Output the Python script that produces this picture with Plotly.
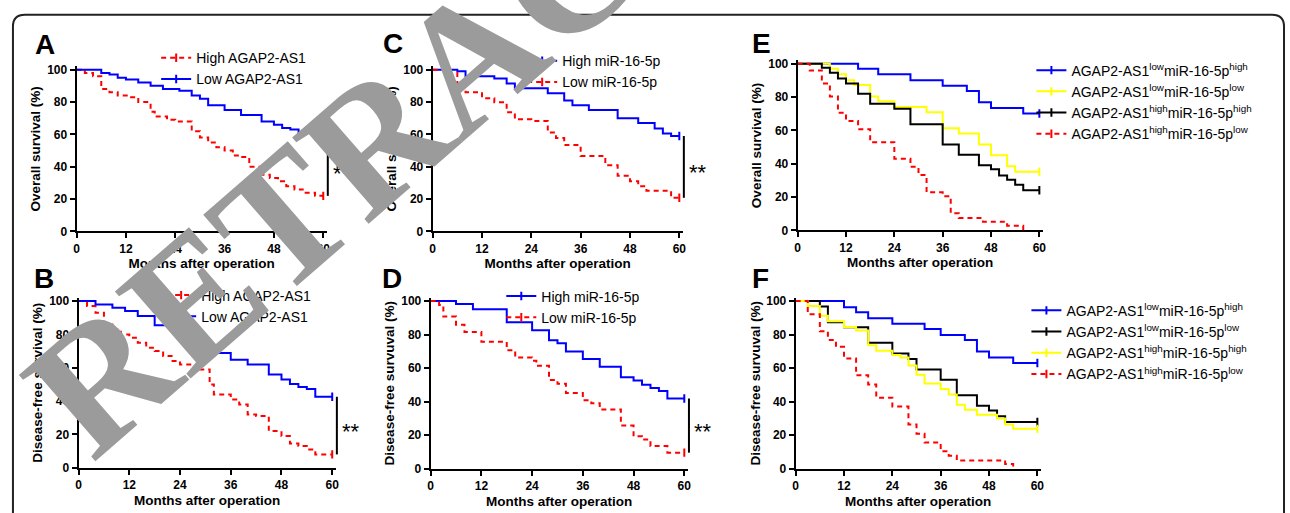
import plotly.graph_objects as go

W, H = 1290, 513
FONT = "Liberation Sans, Arial, sans-serif"
RED, BLUE, BLACK, YELLOW = "#ff0000", "#0000ff", "#000000", "#ffff00"

# ---------------- data (months, survival %) ----------------
month_ticks = [0, 12, 24, 36, 48, 60]
surv_ticks = [0, 20, 40, 60, 80, 100]

# A: overall survival by AGAP2-AS1
a_high_t = [0, 2, 4, 6, 8, 10, 13, 15, 18, 19, 22, 24, 28, 30, 32, 34, 36, 38, 40, 42, 45, 47, 49, 51, 53, 55, 58, 60]
a_high_s = [100, 98, 96, 88, 86, 84, 83, 80, 74, 71, 69, 68, 62, 58, 55, 52, 50, 47, 46, 40, 35, 33, 31, 28, 26, 24, 22, 22]
a_low_t = [0, 6, 8, 10, 12, 15, 18, 21, 25, 28, 30, 32, 36, 40, 45, 48, 50, 52, 54, 58, 60]
a_low_s = [100, 98, 97, 95, 94, 92, 90, 88, 87, 84, 82, 78, 75, 72, 68, 66, 64, 63, 61, 57, 57]

# B: disease-free survival by AGAP2-AS1
b_high_t = [0, 2, 4, 6, 8, 10, 12, 14, 16, 18, 20, 22, 24, 28, 31, 32, 36, 38, 40, 42, 45, 48, 50, 52, 54, 56, 60]
b_high_s = [100, 97, 93, 86, 83, 80, 78, 75, 72, 70, 67, 64, 62, 59, 50, 44, 41, 38, 32, 31, 22, 19, 14.5, 13, 11, 8, 8]
b_low_t = [0, 4, 8, 11, 14, 18, 24, 28, 30, 32, 36, 40, 45, 48, 50, 52, 54, 56, 60]
b_low_s = [100, 98, 96, 94, 91, 85.5, 80.5, 75, 73.7, 68.8, 64.8, 62, 56, 53, 50.3, 48.5, 47.2, 42.6, 42.6]

# C: overall survival by miR-16-5p
c_high_t = [0, 6, 8, 15, 18, 20, 28, 32, 34, 38, 45, 50, 54, 56, 58, 60]
c_high_s = [100, 99, 96, 94.5, 91.5, 88.5, 85.5, 81, 78, 75, 70, 67, 63.6, 60.6, 59, 59]
c_low_t = [0, 3, 6, 8, 12, 15, 18, 20, 24, 28, 30, 32, 36, 42, 45, 48, 50, 52, 58, 60]
c_low_s = [100, 98, 89.5, 86, 82.4, 79.8, 73.7, 69.3, 68.3, 61.2, 57.8, 53.5, 46.7, 41, 34.5, 31, 28, 25.2, 20.8, 20.8]

# D: disease-free survival by miR-16-5p
d_high_t = [0, 6, 10, 18, 24, 28, 30, 32, 36, 40, 45, 48, 50, 52, 54, 56, 60]
d_high_s = [100, 98.2, 95.1, 87.3, 82.6, 76.7, 74.8, 69.9, 65.4, 60.9, 54.6, 52.6, 50.1, 48.1, 46.4, 41.9, 41.9]
d_low_t = [0, 2, 3, 6, 8, 12, 18, 20, 24, 25, 28, 30, 32, 36, 38, 40, 45, 48, 50, 52, 56, 60]
d_low_s = [100, 97.7, 90.8, 85.9, 81.6, 75.7, 70.6, 66.3, 64.4, 61.4, 53, 50.7, 45.2, 40.9, 39, 35.4, 25.8, 19.4, 17.4, 13.5, 9.6, 9.6]

# E: overall survival, combined groups
e_lh_t = [0, 15, 20, 28, 36, 42, 45, 48, 56, 60]
e_lh_s = [100, 97, 93.7, 90.2, 86.9, 83.7, 76.9, 73.5, 70.2, 70.2]
e_ll_t = [0, 8, 10, 12, 14, 18, 20, 24, 32, 36, 40, 45, 48, 52, 54, 60]
e_ll_s = [100, 97, 93.7, 90.2, 87.3, 80.4, 77.5, 74.1, 71, 61.4, 58.2, 51.6, 45.1, 38.6, 35.3, 35.3]
e_hh_t = [0, 6, 8, 10, 12, 15, 18, 24, 28, 36, 40, 45, 48, 50, 52, 54, 56, 60]
e_hh_s = [100, 97.6, 94.7, 91.2, 88.2, 82, 76, 73, 63.7, 51.6, 45.5, 39.2, 36.7, 33, 30.4, 27.5, 24.1, 24.1]
e_hl_t = [0, 3, 6, 8, 10, 12, 15, 18, 24, 28, 30, 32, 36, 38, 40, 46, 52, 56]
e_hl_s = [100, 96, 88.2, 80.4, 70.6, 65.7, 60.8, 52.9, 43.1, 38.2, 33.3, 22.9, 20.6, 10.4, 7.5, 5.3, 2.9, 0]

# F: disease-free survival, combined groups
f_lh_t = [0, 12, 15, 18, 24, 32, 36, 42, 45, 48, 54, 60]
f_lh_s = [100, 96.3, 93.4, 89.8, 86.5, 83.4, 79.7, 76.8, 69.9, 66.4, 63.1, 63.1]
f_ll_t = [0, 6, 8, 12, 18, 24, 28, 30, 36, 40, 45, 48, 50, 52, 60]
f_ll_s = [100, 96.7, 87.3, 84.4, 75.2, 68.8, 65.4, 59.2, 53.1, 43.9, 37.5, 34.8, 31.3, 27.9, 27.9]
f_hh_t = [0, 3, 6, 8, 12, 15, 18, 20, 24, 26, 28, 30, 32, 36, 38, 40, 42, 45, 50, 52, 54, 60]
f_hh_s = [100, 97, 91.2, 87.9, 84.6, 82.4, 73.6, 70.3, 67.8, 66.4, 61.5, 56.1, 50.8, 47.5, 44.3, 38.1, 35.2, 32.2, 29.9, 26.4, 23.8, 23.8]
f_hl_t = [0, 3, 6, 8, 10, 12, 15, 18, 20, 24, 28, 30, 32, 36, 38, 40, 52, 54]
f_hl_s = [100, 92.2, 82, 76.8, 72.7, 65.8, 55.7, 50.2, 42.4, 37.1, 26.4, 20.9, 15.6, 10.4, 7.8, 4.9, 2.9, 0]

LH = "AGAP2-AS1<sup>low</sup>miR-16-5p<sup>high</sup>"
LL = "AGAP2-AS1<sup>low</sup>miR-16-5p<sup>low</sup>"
HH = "AGAP2-AS1<sup>high</sup>miR-16-5p<sup>high</sup>"
HL = "AGAP2-AS1<sup>high</sup>miR-16-5p<sup>low</sup>"

# ---------------- layout of panels (pixel anchors) ----------------
XMAX, YMAX = 60.8, 102
panels = [
    dict(letter="A", box=(74, 322, 68, 233), letter_at=(42, 42), legend_at=(154, 67),
         ytitle="Overall survival (%)", sig=True,
         curves=[("High AGAP2-AS1", a_high_t, a_high_s, RED, "dash"),
                 ("Low AGAP2-AS1", a_low_t, a_low_s, BLUE, "solid")]),
    dict(letter="B", box=(76, 331, 304, 474), letter_at=(41, 281), legend_at=(159, 309),
         ytitle="Disease-free survival (%)", sig=True,
         curves=[("High AGAP2-AS1", b_high_t, b_high_s, RED, "dash"),
                 ("Low AGAP2-AS1", b_low_t, b_low_s, BLUE, "solid")]),
    dict(letter="C", box=(432, 680, 68, 233), letter_at=(392, 41), legend_at=(522, 70),
         ytitle="Overall survival (%)", sig=True,
         curves=[("High miR-16-5p", c_high_t, c_high_s, BLUE, "solid"),
                 ("Low miR-16-5p", c_low_t, c_low_s, RED, "dash")]),
    dict(letter="D", box=(430, 685, 304, 475), letter_at=(391, 281), legend_at=(501, 310),
         ytitle="Disease-free survuval (%)", sig=True,
         curves=[("High miR-16-5p", d_high_t, d_high_s, BLUE, "solid"),
                 ("Low miR-16-5p", d_low_t, d_low_s, RED, "dash")]),
    dict(letter="E", box=(799, 1042, 62, 232), letter_at=(763, 41), legend_at=(1034, 101),
         ytitle="Overall survival (%)", sig=False,
         curves=[(LH, e_lh_t, e_lh_s, BLUE, "solid"),
                 (LL, e_ll_t, e_ll_s, YELLOW, "solid"),
                 (HH, e_hh_t, e_hh_s, BLACK, "solid"),
                 (HL, e_hl_t, e_hl_s, RED, "dash")]),
    dict(letter="F", box=(797, 1040, 304, 475), letter_at=(762, 281), legend_at=(1029, 346),
         ytitle="Disease-free survuval (%)", sig=False,
         curves=[(LH, f_lh_t, f_lh_s, BLUE, "solid"),
                 (LL, f_ll_t, f_ll_s, BLACK, "solid"),
                 (HH, f_hh_t, f_hh_s, YELLOW, "solid"),
                 (HL, f_hl_t, f_hl_s, RED, "dash")]),
]

DASH = "5px,4px"
fig = go.Figure()
annotations, shapes = [], []
layout = dict(width=W, height=H, margin=dict(l=0, r=0, t=0, b=0),
              paper_bgcolor="white", plot_bgcolor="white",
              font=dict(family=FONT, color="black"))

for i, p in enumerate(panels):
    n = "" if i == 0 else str(i + 1)
    xa, ya = "x" + n, "y" + n
    lg = "legend" + n
    x0, x60, y100, y0 = p["box"]
    xr = x0 + (x60 - x0) * XMAX / 60.0
    yt = y0 - (y0 - y100) * YMAX / 100.0
    layout["xaxis" + n] = dict(
        domain=[x0 / W, xr / W], range=[0, XMAX], anchor=ya,
        tickvals=month_ticks, ticks="outside", ticklen=5, tickwidth=2, tickcolor="black",
        showline=True, linewidth=2, linecolor="black", showgrid=False, zeroline=False,
        tickfont=dict(family=FONT, size=12, color="black", weight="bold"),
        title=dict(text="Months after operation", standoff=4,
                   font=dict(family=FONT, size=13.5, color="black", weight="bold")))
    layout["yaxis" + n] = dict(
        domain=[1 - y0 / H, 1 - yt / H], range=[0, YMAX], anchor=xa,
        tickvals=surv_ticks, ticks="outside", ticklen=5, tickwidth=2, tickcolor="black",
        showline=True, linewidth=2, linecolor="black", showgrid=False, zeroline=False,
        tickfont=dict(family=FONT, size=12, color="black", weight="bold"),
        title=dict(text=p["ytitle"], standoff=3,
                   font=dict(family=FONT, size=13.5, color="black", weight="bold")))
    lx, ly = p["legend_at"]
    layout[lg] = dict(x=lx / W, y=1 - ly / H, xanchor="left", yanchor="middle",
                      bgcolor="rgba(0,0,0,0)", traceorder="normal", itemwidth=30,
                      font=dict(family=FONT, size=14, color="black"),
                      tracegroupgap=0)
    for name, t, s, col, dash in p["curves"]:
        dsh = DASH if dash == "dash" else "solid"
        fig.add_trace(go.Scatter(x=t, y=s, mode="lines", line=dict(color=col, width=2, dash=dsh, shape="hv"),
                                 xaxis=xa, yaxis=ya, showlegend=False, hoverinfo="skip"))
        end_x = [t[-1]] if s[-1] > 0 else [None]
        end_y = [s[-1]] if s[-1] > 0 else [None]
        fig.add_trace(go.Scatter(x=end_x, y=end_y, mode="lines+markers", name=name,
                                 line=dict(color=col, width=2, dash=dsh),
                                 marker=dict(symbol="line-ns", size=6, line=dict(color=col, width=2)),
                                 xaxis=xa, yaxis=ya, legend=lg, showlegend=True))
    # panel letter
    px, py = p["letter_at"]
    annotations.append(dict(text="<b>%s</b>" % p["letter"], x=px / W, y=1 - py / H, xref="paper", yref="paper",
                            showarrow=False, font=dict(family=FONT, size=28, color="black"),
                            xanchor="center", yanchor="middle"))
    if p["sig"]:
        ends = [c[2][-1] for c in p["curves"]]
        lo, hi = min(ends), max(ends)
        shapes.append(dict(type="line", xref=xa + " domain", yref=ya + " domain",
                           x0=1.005, x1=1.005, y0=lo / YMAX, y1=hi / YMAX,
                           line=dict(color="black", width=2)))
        annotations.append(dict(text="**", xref=xa + " domain", yref=ya + " domain",
                                x=1.005, y=(lo + hi) / 2 / YMAX, xanchor="left", yanchor="middle",
                                xshift=3, yshift=-6, showarrow=False,
                                font=dict(family=FONT, size=22, color="black")))

# outer rounded frame (bottom edge outside the picture)
rx, ry = 12 / W, 12 / H
fx0, fx1, ftop, fbot = 10 / W, 1288 / W, 1 - 12 / H, -0.2
shapes.append(dict(type="path", xref="paper", yref="paper", layer="below",
                   path=f"M {fx0},{fbot} L {fx0},{ftop-ry} Q {fx0},{ftop} {fx0+rx},{ftop} "
                        f"L {fx1-rx},{ftop} Q {fx1},{ftop} {fx1},{ftop-ry} L {fx1},{fbot}",
                   line=dict(color="#222222", width=2)))

# retraction watermark
annotations.append(dict(text="<b>RETRACTED</b>", x=470 / W, y=1 - 55 / H, xref="paper", yref="paper",
                        showarrow=False, textangle=-41, xanchor="center", yanchor="middle",
                        font=dict(family="Liberation Serif, Times New Roman, serif", size=176, color="#9b9b9b")))

layout["annotations"] = annotations
layout["shapes"] = shapes
fig.update_layout(**layout)
fig.write_html("out.html", config={"displayModeBar": False},
               post_script="document.body.style.margin='0';document.body.style.padding='0';"
                           "document.body.style.overflow='hidden';")
